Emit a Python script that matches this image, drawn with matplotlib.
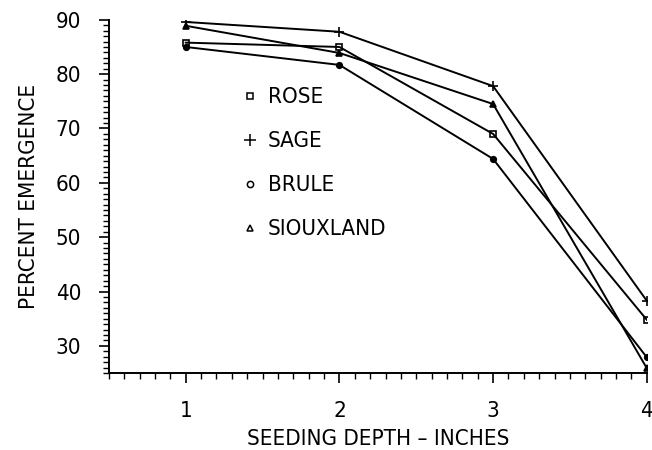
import numpy as np
import matplotlib.pyplot as plt
from matplotlib.lines import Line2D
from matplotlib.ticker import MultipleLocator

plt.rcParams['font.family'] = ['DejaVu Sans']
plt.rcParams['font.stretch'] = 'condensed'

# datos
depth = [1, 2, 3, 4]
rose = [85.8, 85.0, 69.0, 34.8]
sage = [89.6, 87.8, 77.8, 38.3]
brule = [85.0, 81.7, 64.4, 27.9]
siouxland = [88.9, 83.9, 74.5, 25.9]

names = ['ROSE', 'SAGE', 'BRULE', 'SIOUXLAND']
series = [rose, sage, brule, siouxland]
marks = [('s', 5, 'none'), ('+', 7, 'k'), ('o', 4, 'k'), ('^', 5, 'k')]

fig = plt.figure(figsize=(6.52, 4.5), dpi=100)
ax = fig.add_axes([0.167, 0.171, 0.825, 0.785])

for vals, (m, ms, fc) in zip(series, marks):
    ax.plot(depth, vals, color='k', lw=1.4, marker=m, ms=ms,
            mfc=fc, mec='k', mew=1.2)

ax.set_xlim(0.5, 4)
ax.set_ylim(25, 90)
ax.xaxis.set_major_locator(MultipleLocator(1))
ax.xaxis.set_minor_locator(MultipleLocator(0.1))
ax.yaxis.set_major_locator(MultipleLocator(10))
ax.yaxis.set_minor_locator(MultipleLocator(1))
ax.tick_params(which='major', direction='out', length=7, width=1.2, labelsize=16, pad=13)
ax.tick_params(which='minor', direction='out', length=4, width=1)
ax.spines['top'].set_visible(False)
ax.spines['right'].set_visible(False)
ax.spines['left'].set_linewidth(1.4)
ax.spines['bottom'].set_linewidth(1.4)

ax.set_xlabel('SEEDING DEPTH \u2013 INCHES', fontsize=16, labelpad=6)
ax.set_ylabel('PERCENT EMERGENCE', fontsize=16, labelpad=12)

handles = [Line2D([], [], ls='none', marker=m, ms=4.5 if m != '+' else 9,
                  mfc='none', mec='k', mew=1.1) for m, ms, fc in marks]
ax.legend(handles, names, loc='upper left', bbox_to_anchor=(0.225, 0.84),
          frameon=False, fontsize=16, labelspacing=1.08, handlelength=0.8,
          handletextpad=0.4, borderpad=0)

plt.savefig('out.png', dpi=100)
